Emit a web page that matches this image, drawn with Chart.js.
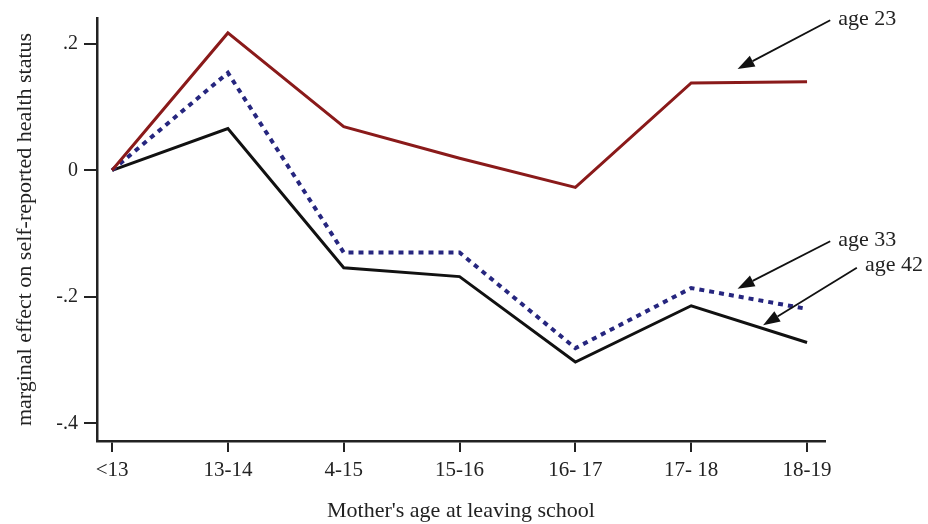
<!DOCTYPE html>
<html>
<head>
<meta charset="utf-8">
<script src="https://cdn.jsdelivr.net/npm/chart.js@4"></script>
<style>
  html, body { margin: 0; padding: 0; background: #fff; }
  #wrap { width: 928px; height: 524px; position: relative; }
</style>
</head>
<body>
<div id="wrap"><canvas id="c" width="928" height="524"></canvas></div>
<script>
// ---- data ----
const categories = ["<13", "13-14", "4-15", "15-16", "16- 17", "17- 18", "18-19"];
const age23 = [0, 0.217, 0.069, 0.019, -0.027, 0.138, 0.140];
const age33 = [0, 0.154, -0.130, -0.130, -0.281, -0.186, -0.219];
const age42 = [0, 0.066, -0.154, -0.168, -0.303, -0.214, -0.272];
const yTickValues = [-0.4, -0.2, 0, 0.2];
const yTickLabels = ["-.4", "-.2", "0", ".2"];
const seriesLabels = ["age 23", "age 33", "age 42"];

// annotation arrows (data coordinates)
const notes = [
  { text: "age 23", tx: 6.27, ty: 0.238, x1: 6.20, y1: 0.237, x2: 5.40, y2: 0.160 },
  { text: "age 33", tx: 6.27, ty: -0.110, x1: 6.20, y1: -0.112, x2: 5.40, y2: -0.187 },
  { text: "age 42", tx: 6.50, ty: -0.150, x1: 6.43, y1: -0.154, x2: 5.62, y2: -0.245 }
];

const FONT = "'Liberation Serif', 'DejaVu Serif', serif";
const INK = '#222';

const toPts = arr => arr.map((v, i) => ({ x: i, y: v }));

const arrowPlugin = {
  id: 'arrows',
  afterDatasetsDraw(chart) {
    const { ctx, scales: { x, y } } = chart;
    ctx.save();
    ctx.strokeStyle = '#111';
    ctx.lineWidth = 1.8;
    ctx.font = "22px " + FONT;
    ctx.textBaseline = 'middle';
    ctx.textAlign = 'left';
    notes.forEach(n => {
      const px1 = x.getPixelForValue(n.x1), py1 = y.getPixelForValue(n.y1);
      const px2 = x.getPixelForValue(n.x2), py2 = y.getPixelForValue(n.y2);
      const ang = Math.atan2(py2 - py1, px2 - px1);
      const headLen = 17, headW = 6;
      const bx = px2 - headLen * Math.cos(ang), by = py2 - headLen * Math.sin(ang);
      ctx.beginPath();
      ctx.moveTo(px1, py1);
      ctx.lineTo(bx, by);
      ctx.stroke();
      ctx.fillStyle = '#111';
      ctx.beginPath();
      ctx.moveTo(px2, py2);
      ctx.lineTo(bx + headW * Math.sin(ang), by - headW * Math.cos(ang));
      ctx.lineTo(bx - headW * Math.sin(ang), by + headW * Math.cos(ang));
      ctx.closePath();
      ctx.fill();
      ctx.fillStyle = INK;
      ctx.fillText(n.text, x.getPixelForValue(n.tx), y.getPixelForValue(n.ty));
    });
    ctx.restore();
  }
};

new Chart(document.getElementById('c'), {
  type: 'line',
  data: {
    datasets: [
      { label: seriesLabels[0], data: toPts(age23), borderColor: '#8a1a1a', borderWidth: 3, pointRadius: 0, tension: 0, borderJoinStyle: 'miter' },
      { label: seriesLabels[1], data: toPts(age33), borderColor: '#26267f', borderWidth: 4, borderDash: [5, 5], borderCapStyle: 'butt', pointRadius: 0, tension: 0, borderJoinStyle: 'miter' },
      { label: seriesLabels[2], data: toPts(age42), borderColor: '#111111', borderWidth: 3, pointRadius: 0, tension: 0, borderJoinStyle: 'miter' }
    ]
  },
  options: {
    responsive: false,
    animation: false,
    events: [],
    layout: { padding: { left: 0, top: 16, right: 103, bottom: 0 } },
    plugins: { legend: { display: false }, tooltip: { enabled: false } },
    scales: {
      x: {
        type: 'linear',
        min: -0.13,
        max: 6.155,
        afterBuildTicks: s => { s.ticks = categories.map((c, i) => ({ value: i })); },
        afterFit: s => { s.height = 83; },
        ticks: {
          callback: v => categories[v],
          font: { family: FONT, size: 21 },
          color: INK,
          padding: 6,
          maxRotation: 0,
          autoSkip: false
        },
        grid: { drawOnChartArea: false, drawTicks: true, tickLength: 11, color: INK, lineWidth: 2 },
        border: { display: true, color: INK, width: 2.5 },
        title: { display: true, text: "Mother's age at leaving school", font: { family: FONT, size: 22 }, color: INK, padding: { top: 0, bottom: 0 } }
      },
      y: {
        type: 'linear',
        min: -0.4277,
        max: 0.2406,
        afterBuildTicks: s => { s.ticks = yTickValues.map(v => ({ value: v })); },
        afterFit: s => { s.width = 97; },
        ticks: {
          callback: v => yTickLabels[yTickValues.findIndex(t => Math.abs(t - v) < 1e-9)],
          font: { family: FONT, size: 20 },
          color: INK,
          padding: 6
        },
        grid: { drawOnChartArea: false, drawTicks: true, tickLength: 13, color: INK, lineWidth: 2 },
        border: { display: true, color: INK, width: 2.5 },
        title: { display: true, text: "marginal effect on self-reported health status", font: { family: FONT, size: 22 }, color: INK, padding: { top: 12, bottom: 0 } }
      }
    }
  },
  plugins: [arrowPlugin]
});
</script>
</body>
</html>
